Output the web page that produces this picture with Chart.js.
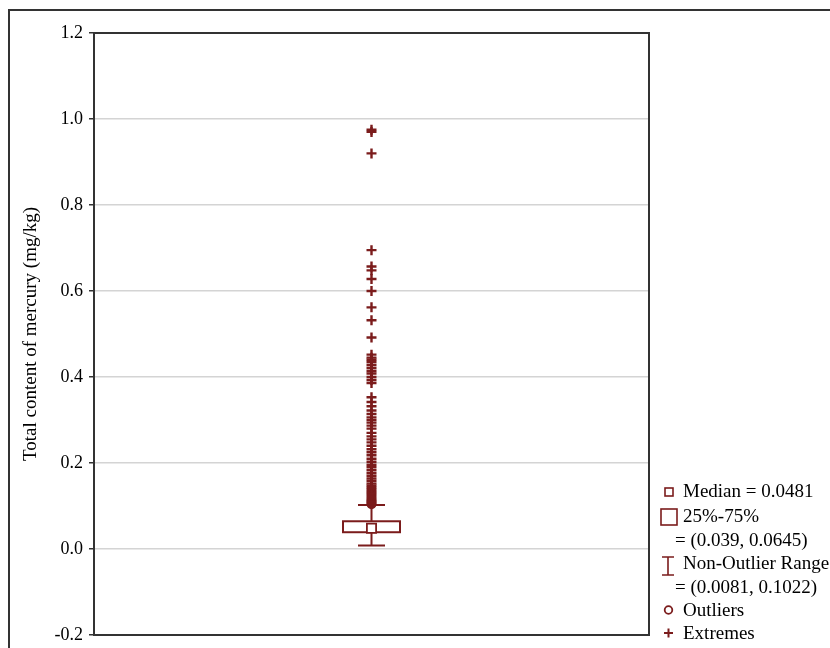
<!DOCTYPE html>
<html><head><meta charset="utf-8">
<script src="https://cdn.jsdelivr.net/npm/chart.js@4.4.0/dist/chart.umd.min.js"></script>
<style>html,body{margin:0;padding:0;background:#fff;} #wrap{width:830px;height:648px;position:relative;}</style>
</head><body><div id="wrap"><canvas id="c" width="830" height="648"></canvas></div>
<script>
// ---- data ----
const yTickValues = [-0.2, 0.0, 0.2, 0.4, 0.6, 0.8, 1.0, 1.2];
const median = [0.0481];
const quartiles = [0.039, 0.0645];
const nonOutlierRange = [0.0081, 0.1022];
const outliers = [0.104, 0.106, 0.108, 0.110, 0.112, 0.114, 0.117, 0.120, 0.123, 0.126, 0.129, 0.132, 0.135, 0.138];
const extremes = [0.975, 0.970, 0.920, 0.695, 0.657, 0.648, 0.628, 0.600, 0.562, 0.532, 0.492,
  0.452, 0.445, 0.440, 0.435, 0.428, 0.421, 0.414, 0.408, 0.400, 0.393, 0.386,
  0.353, 0.342, 0.332, 0.322, 0.314, 0.306, 0.300, 0.294, 0.287, 0.280,
  0.270, 0.262, 0.255, 0.248, 0.240, 0.232, 0.225, 0.218, 0.210, 0.203, 0.196, 0.190,
  0.183, 0.176, 0.170, 0.164, 0.158, 0.152, 0.147, 0.142];
const yTitle = 'Total content of mercury (mg/kg)';

const RED = '#7b1c1c';
const SERIF = "'Liberation Serif', 'DejaVu Serif', serif";
const XC = 1; // category position of the single box

const pts = arr => arr.map(v => ({x: XC, y: v}));

const framePlugin = {
  id: 'frame',
  beforeDraw(chart) {
    const ctx = chart.ctx;
    ctx.save();
    ctx.strokeStyle = '#333';
    ctx.lineWidth = 2;
    ctx.beginPath();
    ctx.moveTo(9, 648); ctx.lineTo(9, 10); ctx.lineTo(830, 10);
    ctx.stroke();
    ctx.restore();
  },
  afterDraw(chart) {
    const {ctx, chartArea: a} = chart;
    ctx.save();
    ctx.strokeStyle = '#333';
    ctx.lineWidth = 2;
    ctx.strokeRect(a.left, a.top, a.right - a.left, a.bottom - a.top);
    ctx.restore();
  }
};

const boxPlugin = {
  id: 'box',
  beforeDatasetsDraw(chart) {
    const {ctx, scales: {x, y}} = chart;
    const xc = x.getPixelForValue(XC);
    const halfBox = 28.5, halfCap = 13.5;
    const yq1 = y.getPixelForValue(quartiles[0]);
    const yq3 = y.getPixelForValue(quartiles[1]);
    const ylo = y.getPixelForValue(nonOutlierRange[0]);
    const yhi = y.getPixelForValue(nonOutlierRange[1]);
    ctx.save();
    ctx.strokeStyle = RED;
    ctx.lineWidth = 2;
    ctx.beginPath();
    ctx.moveTo(xc, yq3); ctx.lineTo(xc, yhi);
    ctx.moveTo(xc - halfCap, yhi); ctx.lineTo(xc + halfCap, yhi);
    ctx.moveTo(xc, yq1); ctx.lineTo(xc, ylo);
    ctx.moveTo(xc - halfCap, ylo); ctx.lineTo(xc + halfCap, ylo);
    ctx.stroke();
    ctx.fillStyle = '#fff';
    ctx.fillRect(xc - halfBox, yq3, 2 * halfBox, yq1 - yq3);
    ctx.strokeRect(xc - halfBox, yq3, 2 * halfBox, yq1 - yq3);
    ctx.restore();
  }
};

const legendPlugin = {
  id: 'customLegend',
  afterDraw(chart) {
    const ctx = chart.ctx;
    ctx.save();
    ctx.strokeStyle = RED;
    ctx.fillStyle = '#000';
    ctx.font = '19px ' + SERIF;
    ctx.textBaseline = 'middle';
    ctx.textAlign = 'left';
    const rows = [
      {t: 'Median = ' + median[0], x: 683, y: 492},
      {t: '25%-75%', x: 683, y: 517},
      {t: '= (' + quartiles[0] + ', ' + quartiles[1] + ')', x: 675, y: 541},
      {t: 'Non-Outlier Range', x: 683, y: 564},
      {t: '= (' + nonOutlierRange[0] + ', ' + nonOutlierRange[1] + ')', x: 675, y: 588},
      {t: 'Outliers', x: 683, y: 611},
      {t: 'Extremes', x: 683, y: 634}
    ];
    rows.forEach(r => ctx.fillText(r.t, r.x, r.y));
    // icons
    ctx.lineWidth = 1.6;
    ctx.strokeRect(665, 488, 8, 8);
    ctx.strokeRect(661, 509, 16, 16);
    ctx.beginPath();
    ctx.moveTo(668, 557); ctx.lineTo(668, 575);
    ctx.moveTo(662, 557); ctx.lineTo(674, 557);
    ctx.moveTo(662, 575); ctx.lineTo(674, 575);
    ctx.stroke();
    ctx.lineWidth = 1.8;
    ctx.beginPath();
    ctx.arc(668.5, 610, 3.8, 0, Math.PI * 2);
    ctx.stroke();
    ctx.lineWidth = 2;
    ctx.beginPath();
    ctx.moveTo(664, 633); ctx.lineTo(673, 633);
    ctx.moveTo(668.5, 628.5); ctx.lineTo(668.5, 637.5);
    ctx.stroke();
    ctx.restore();
  }
};

new Chart(document.getElementById('c'), {
  type: 'scatter',
  data: {
    datasets: [
      {label: 'Extremes', data: pts(extremes), pointStyle: 'cross', pointRadius: 5, borderWidth: 2.4, borderColor: RED, backgroundColor: RED},
      {label: 'Outliers', data: pts(outliers), pointStyle: 'circle', pointRadius: 4, borderWidth: 1.8, borderColor: RED, backgroundColor: 'rgba(123,28,28,0.15)'},
      {label: 'Median', data: pts(median), pointStyle: 'rect', pointRadius: 6.5, borderWidth: 1.8, borderColor: RED, backgroundColor: '#fff'}
    ]
  },
  options: {
    responsive: false,
    animation: false,
    events: [],
    layout: {padding: {left: 9, top: 33, right: 181, bottom: 13}},
    plugins: {legend: {display: false}, tooltip: {enabled: false}},
    scales: {
      x: {type: 'linear', min: 0, max: 2, display: false},
      y: {
        type: 'linear', min: -0.2, max: 1.2,
        afterFit(s) { s.width = 85; s.paddingTop = 0; s.paddingBottom = 0; },
        afterBuildTicks(s) { s.ticks = yTickValues.map(v => ({value: v})); },
        ticks: {
          color: '#000', padding: 6,
          font: {family: SERIF, size: 18},
          callback: v => v.toFixed(1)
        },
        grid: {color: '#d4d4d4', lineWidth: 1.5, tickLength: 5, tickColor: '#333', tickWidth: 1.5},
        border: {display: false},
        title: {display: true, text: yTitle, color: '#000', font: {family: SERIF, size: 19}, padding: {top: 11, bottom: 0}}
      }
    }
  },
  plugins: [framePlugin, boxPlugin, legendPlugin]
});
</script></body></html>
